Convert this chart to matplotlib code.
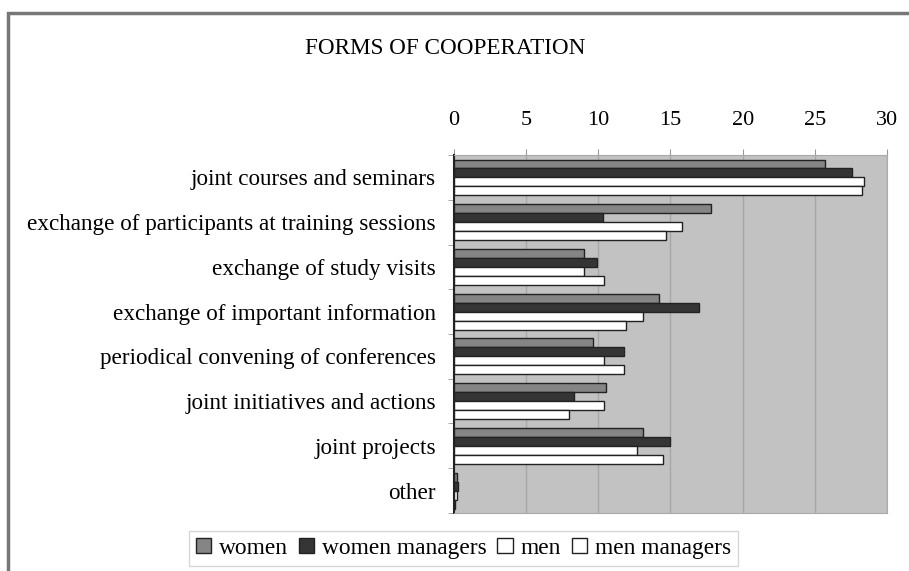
import numpy as np
import matplotlib
matplotlib.use('Agg')
from matplotlib import pyplot as plt
from matplotlib.patches import Rectangle

plt.rcParams['font.family'] = ['Liberation Serif', 'DejaVu Serif']

categories = ['joint courses and seminars',
              'exchange of participants at training sessions',
              'exchange of study visits',
              'exchange of important information',
              'periodical convening of conferences',
              'joint initiatives and actions',
              'joint projects',
              'other']
women = [25.7, 17.8, 9.0, 14.2, 9.6, 10.5, 13.1, 0.2]
women_managers = [27.6, 10.3, 9.9, 17.0, 11.8, 8.3, 15.0, 0.3]
men = [28.4, 15.8, 9.0, 13.1, 10.4, 10.4, 12.7, 0.2]
men_managers = [28.3, 14.7, 10.4, 11.9, 11.8, 8.0, 14.5, 0.1]

series = [('women', women, '#858585'),
          ('women managers', women_managers, '#353535'),
          ('men', men, '#ffffff'),
          ('men managers', men_managers, '#ffffff')]

fig = plt.figure(figsize=(9.09, 5.71), dpi=100)
ax = fig.add_axes([0.4994, 0.1016, 0.4764, 0.6269])

# outer chart frame (cut off at right and bottom)
fig.patches.append(Rectangle((0.009, -0.05), 1.1, 0.028 + 0.05 + 0.95,
                             transform=fig.transFigure, fill=False,
                             edgecolor='#777777', linewidth=2.5))

y = np.arange(len(categories))
h = 0.2
for i, (name, vals, col) in enumerate(series):
    ax.barh(y - 0.3 + i * h, vals, height=h, color=col, edgecolor='#222222',
            linewidth=1.0, label=name, zorder=3)

ax.set_facecolor('#c2c2c2')
ax.set_xlim(0, 30)
ax.set_ylim(len(categories) - 0.5, -0.5)
ax.set_xticks(range(0, 31, 5))
ax.xaxis.tick_top()
ax.tick_params(axis='x', length=4, color='#999999', labelsize=16, pad=14)
ax.set_yticks(y)
ax.set_yticklabels(categories, fontsize=16.7)
ax.tick_params(axis='y', length=0, pad=13)
ax.set_yticks(np.arange(len(categories) + 1) - 0.5, minor=True)
ax.tick_params(axis='y', which='minor', length=4, color='#999999')
ax.grid(axis='x', color='#a8a8a8', linewidth=1.0, zorder=0)
for s in ['top', 'right', 'bottom']:
    ax.spines[s].set_color('#aaaaaa')
ax.spines['left'].set_color('#222222')
ax.spines['left'].set_linewidth(1.5)

fig.text(0.49, 0.915, 'FORMS OF COOPERATION', ha='center', va='center',
         fontsize=16.7)

leg = fig.legend(loc='center', bbox_to_anchor=(0.51, 0.04), ncol=4,
                 fontsize=16.8, frameon=True, fancybox=False,
                 handlelength=0.65, handleheight=0.65, handletextpad=0.35,
                 columnspacing=0.45, borderpad=0.3)
leg.get_frame().set_edgecolor('#cccccc')

fig.savefig('out.png', dpi=100)
